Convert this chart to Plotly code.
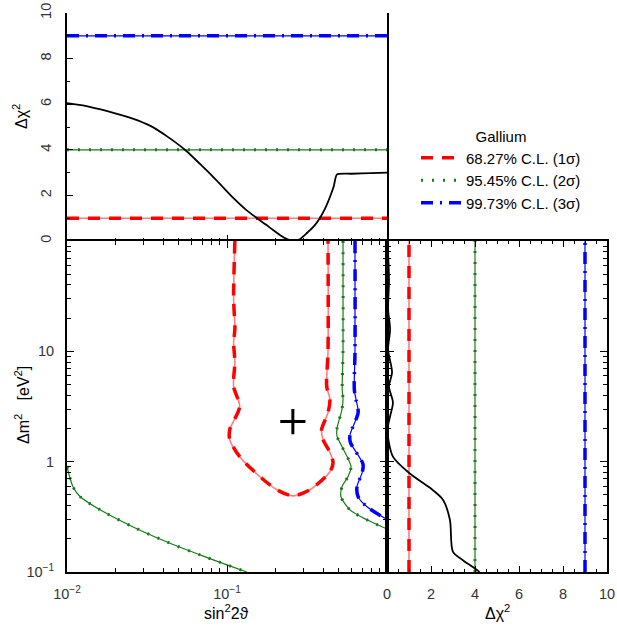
import plotly.graph_objects as go

# ---------------- data ----------------
CL_LEVELS = [1.0, 4.0, 9.0]
CL_NAMES = ["68.27% C.L. (1σ)", "95.45% C.L. (2σ)", "99.73% C.L. (3σ)"]

# top panel: Δχ² vs sin²2θ (marginalised)
top_x = [0.010, 0.013, 0.016, 0.020, 0.026, 0.033, 0.042, 0.0546, 0.0678, 0.0866, 0.109, 0.13, 0.154, 0.175, 0.194,
         0.215, 0.237, 0.258, 0.285, 0.316, 0.35, 0.38, 0.41, 0.44, 0.465, 0.487, 0.60, 0.80, 1.0]
top_y = [6.05, 5.93, 5.78, 5.60, 5.36, 5.06, 4.60, 4.00, 3.38, 2.64, 1.90, 1.40, 1.00, 0.72, 0.48,
         0.25, 0.08, 0.00, 0.08, 0.35, 0.65, 1.00, 1.42, 1.93, 2.40, 2.92, 2.95, 2.98, 3.00]

# right panel: Δχ² vs Δm²
right_x = [0.02, 0.09, 0.05, 0.14, 0.05, 0.23, 0.09, 0.27, 0.14, 0.02, 0.27, 1.05, 1.95, 2.55, 2.86, 3.0, 3.45, 4.1, 4.2]
right_y = [100, 45, 24, 15.8, 10.4, 6.44, 4.8, 3.44, 2.57, 1.95, 1.11, 0.778, 0.58, 0.45, 0.297, 0.152, 0.128, 0.104, 0.1]

# contours in (sin²2θ, Δm²)
red_x = [0.112, 0.110, 0.112, 0.110, 0.112, 0.110, 0.12, 0.104, 0.104, 0.12, 0.161, 0.205, 0.258, 0.33, 0.44, 0.46, 0.44, 0.398, 0.39, 0.428, 0.44, 0.42, 0.428, 0.428]
red_y = [100, 30, 16, 12, 8, 4.8, 3.16, 1.95, 1.59, 1.11, 0.73, 0.556, 0.49, 0.556, 0.81, 0.98, 1.21, 1.59, 1.95, 2.79, 3.66, 4.8, 10, 100]

green1_x = [0.531, 0.531, 0.525, 0.531, 0.523, 0.487, 0.487, 0.523, 0.596, 0.57, 0.523, 0.516, 0.587, 0.75, 1.0]
green1_y = [100, 10, 4.5, 3.66, 2.97, 2.0, 1.7, 1.37, 0.9, 0.73, 0.593, 0.481, 0.366, 0.297, 0.245]
green2_x = [0.010, 0.0109, 0.0121, 0.0161, 0.0259, 0.0422, 0.0678, 0.100, 0.133]
green2_y = [0.90, 0.593, 0.481, 0.366, 0.256, 0.187, 0.143, 0.116, 0.100]

blue_x = [0.631, 0.631, 0.625, 0.64, 0.66, 0.587, 0.59, 0.708, 0.70, 0.649, 0.66, 0.75, 1.0]
blue_y = [100, 10, 4.5, 3.66, 2.79, 1.75, 1.5, 0.95, 0.8, 0.593, 0.481, 0.39, 0.30]

best_x = [0.258]
best_y = [2.31]

# ---------------- styles ----------------
STY = [
    dict(base="rgba(255,0,0,0.5)", bw=1.6, col="#ff0000", w=3.5, dash="12px,9px"),
    dict(base="#1a7a1a", bw=1.2, col="#1a7a1a", w=3.0, dash="2px,9px"),
    dict(base="#0000ff", bw=1.2, col="#0000ff", w=3.5, dash="12px,7px,2px,7px"),
]

fig = go.Figure()


def add_cl(x, y, k, xa, ya, legend=False, spline=True):
    s = STY[k]
    shape = "spline" if spline else "linear"
    fig.add_trace(go.Scatter(x=x, y=y, xaxis=xa, yaxis=ya, mode="lines",
                             line=dict(color=s["base"], width=s["bw"], shape=shape, smoothing=0.8),
                             showlegend=False, hoverinfo="skip"))
    fig.add_trace(go.Scatter(x=x, y=y, xaxis=xa, yaxis=ya, mode="lines",
                             line=dict(color=s["col"], width=s["w"], dash=s["dash"], shape=shape, smoothing=0.8),
                             name=CL_NAMES[k], showlegend=legend, legendrank=k))


# main panel contours
add_cl(red_x, red_y, 0, "x", "y")
add_cl(green1_x, green1_y, 1, "x", "y")
add_cl(green2_x, green2_y, 1, "x", "y")
add_cl(blue_x, blue_y, 2, "x", "y")
fig.add_trace(go.Scatter(x=best_x, y=best_y, xaxis="x", yaxis="y", mode="markers",
                         marker=dict(symbol="cross-thin", size=18, line=dict(color="black", width=3)),
                         showlegend=False))

# top panel
for k, lev in enumerate(CL_LEVELS):
    add_cl([0.01, 1.0], [lev, lev], k, "x2", "y2", legend=True, spline=False)
fig.add_trace(go.Scatter(x=top_x, y=top_y, xaxis="x2", yaxis="y2", mode="lines",
                         line=dict(color="black", width=1.8, shape="spline", smoothing=0.6),
                         showlegend=False))

# right panel
for k, lev in enumerate(CL_LEVELS):
    add_cl([lev, lev], [0.1, 100], k, "x3", "y3", spline=False)
fig.add_trace(go.Scatter(x=right_x, y=right_y, xaxis="x3", yaxis="y3", mode="lines",
                         line=dict(color="black", width=1.8, shape="spline", smoothing=0.8),
                         showlegend=False))

# minor tick positions for the log axes
LOG_MINOR_X = [m * 10.0 ** e for e in (-2, -1) for m in range(2, 10)]
LOG_MINOR_Y = [m * 10.0 ** e for e in (-1, 0, 1) for m in range(2, 10)]

FONT = "Liberation Sans, Arial, sans-serif"
W, H = 617, 627
ML, MR, MT, MB = 67, 10, 13, 55
PW, PH = W - ML - MR, H - MT - MB
XD = 320 / PW
YD = 331 / PH
common = dict(showgrid=False, zeroline=False, showline=True, linecolor="black", linewidth=2,
              ticks="inside", tickcolor="black", automargin=False, ticklabeloverflow="allow",
              ticklabelstandoff=8, tickfont=dict(size=14.5, color="#333", family=FONT))


def minor_log(vals):
    return dict(ticks="inside", ticklen=4, tickcolor="black", showgrid=False, tickvals=vals)


def px(xp, yp):
    return (xp - ML) / PW, 1 - (yp - MT) / PH


fig.update_layout(
    width=W, height=H,
    margin=dict(l=ML, r=MR, t=MT, b=MB, autoexpand=False),
    paper_bgcolor="white", plot_bgcolor="white",
    font=dict(family=FONT, color="black"),
    xaxis=dict(common, type="log", range=[-2, 0], domain=[0, XD], anchor="y", mirror="ticks",
               tickvals=[0.01, 0.1], ticktext=["10<sup>−2</sup>", "10<sup>−1</sup>"], ticklen=7,
               minor=minor_log(LOG_MINOR_X)),
    yaxis=dict(common, type="log", range=[-1, 2], domain=[0, YD], anchor="x", mirror="ticks",
               tickvals=[0.1, 1, 10], ticktext=["10<sup>−1</sup>", "1", "10"], ticklen=7,
               minor=minor_log(LOG_MINOR_Y)),
    xaxis2=dict(common, type="log", range=[-2, 0], domain=[0, XD], anchor="y2", mirror=False,
                showline=False, showticklabels=False, tickvals=[0.01, 0.1, 1], ticklen=6,
                minor=dict(ticks="inside", ticklen=3, tickcolor="black", showgrid=False, tickvals=LOG_MINOR_X)),
    yaxis2=dict(common, range=[0, 10], domain=[YD, 1], anchor="x2", mirror=True,
                dtick=2, tickangle=-90, ticklen=6,
                minor=dict(ticks="inside", ticklen=3, dtick=1, tickcolor="black", showgrid=False)),
    xaxis3=dict(common, range=[0, 10], domain=[XD, 1], anchor="y3", mirror="ticks",
                dtick=2, ticklen=6,
                minor=dict(ticks="inside", ticklen=3, dtick=0.5, tickcolor="black", showgrid=False)),
    yaxis3=dict(common, type="log", range=[-1, 2], domain=[0, YD], anchor="x3", mirror="ticks",
                showticklabels=False, tickvals=[0.1, 1, 10, 100], ticklen=7,
                minor=minor_log(LOG_MINOR_Y)),
    legend=dict(x=px(416, 0)[0], y=px(0, 122)[1], xanchor="left", yanchor="top",
                bgcolor="rgba(0,0,0,0)", font=dict(size=15, family=FONT),
                title=dict(text="Gallium", side="top center", font=dict(size=15, family=FONT)),
                tracegroupgap=0, itemwidth=40),
)

TITLE_FONT = dict(size=16, family=FONT, color="black")
titles = [
    ("sin<sup>2</sup>2ϑ", 226, 612, 0),
    ("Δχ<sup>2</sup>", 497, 612, 0),
    ("Δχ<sup>2</sup>", 20, 117, -90),
    ("Δm<sup>2</sup>   [eV<sup>2</sup>]", 22, 405, -90),
]
for text, xp, yp, ang in titles:
    ax, ay = px(xp, yp)
    fig.add_annotation(text=text, x=ax, y=ay, xref="paper", yref="paper", showarrow=False,
                       textangle=ang, xanchor="center", yanchor="middle", font=TITLE_FONT)

fig.write_html("out.html", config={"displayModeBar": False},
               post_script="document.body.style.margin='0';")
